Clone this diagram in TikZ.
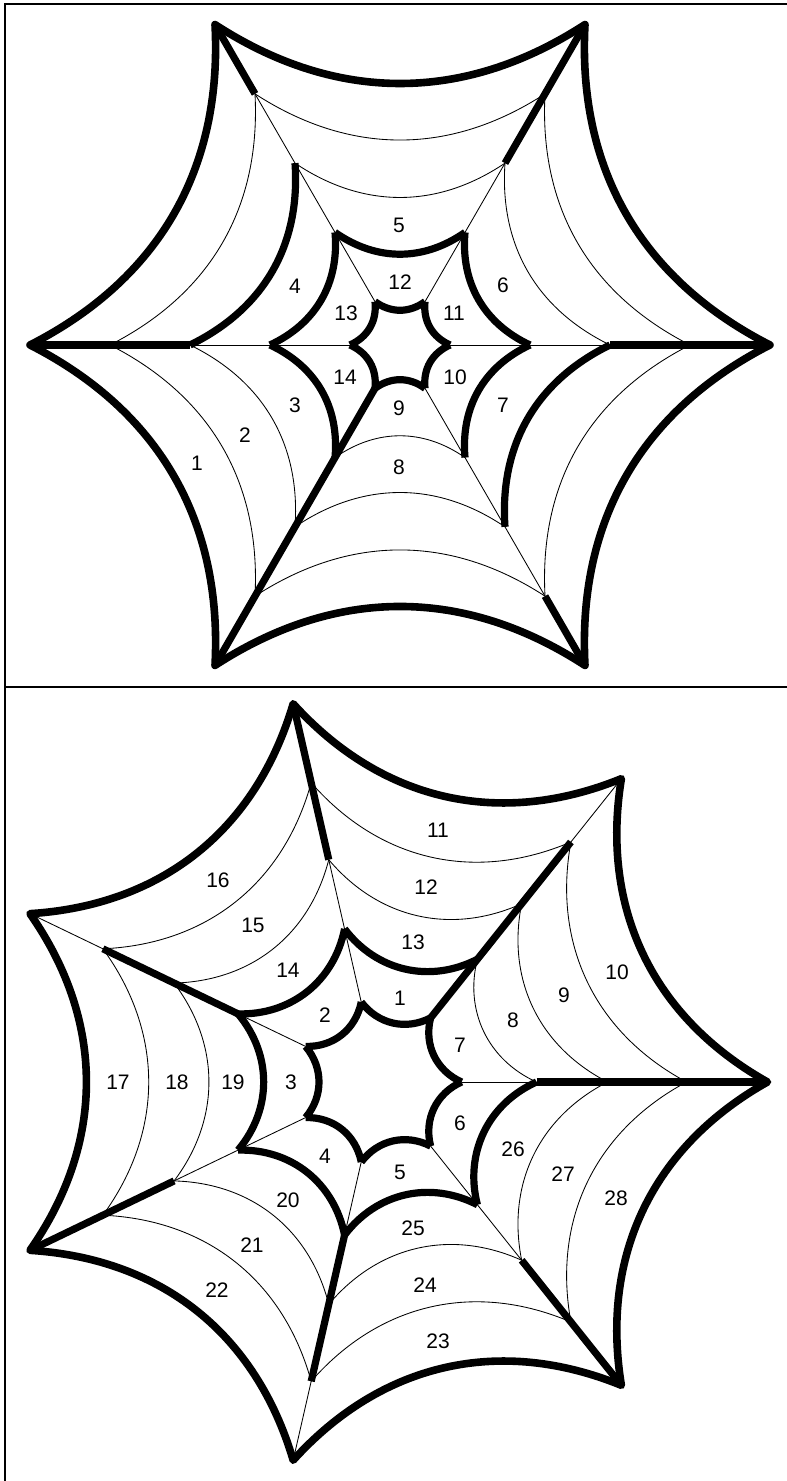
\documentclass[tikz,border=0pt]{standalone}
\usepackage{fontspec}
\setmainfont{Liberation Sans}
\begin{document}
\begin{tikzpicture}[x=1pt,y=1pt,
  thickline/.style={line width=7.2pt},
  thinline/.style={line width=0.85pt},
  outerline/.style={line width=7.6pt,line join=round},
  frameline/.style={line width=2pt},
  lbl/.style={font=\fontsize{21}{25}\selectfont, inner sep=0pt}]
\useasboundingbox (0,0) rectangle (787,1481);
% frame
\draw[frameline] (787,1477) -- (5,1477) -- (5,0);
\draw[frameline] (5,794) -- (787,794);

% ---------------- top web ----------------
\foreach \k in {0,...,5}{
  \foreach \i/\r in {1/50,2/130,3/210,4/290,5/370}{
    \coordinate (T\k-\i) at ([shift={(400,1136)}]\k*60:\r);
  }
}
% thin spokes
\foreach \k/\a/\b in {0/1/3,1/1/3,2/1/4,3/1/3,5/1/4}{
  \draw[thinline] (T\k-\a) -- (T\k-\b);
}
% thin arcs
\foreach \k/\i/\bb in {4/2/35,0/3/34,1/3/34,3/3/34,4/3/34,0/4/33,1/4/33,2/4/33,3/4/33,4/4/33,5/4/33}{
  \pgfmathtruncatemacro\kn{mod(\k+1,6)}
  \draw[thinline] (T\k-\i) to[bend left=\bb] (T\kn-\i);
}
% thick spokes
\foreach \k/\a/\b in {0/3/5,1/3/5,2/4/5,3/3/5,4/1/5,5/4/5}{
  \draw[thickline] (T\k-\a) -- (T\k-\b);
}
% thick arcs
\foreach \k/\i/\bb in {0/1/36,1/1/36,2/1/36,3/1/36,4/1/36,5/1/36,0/2/35,1/2/35,2/2/35,3/2/35,5/2/35,2/3/34,5/3/34}{
  \pgfmathtruncatemacro\kn{mod(\k+1,6)}
  \draw[thickline] (T\k-\i) to[bend left=\bb] (T\kn-\i);
}
\draw[outerline] (T0-5) to[bend left=33] (T1-5) to[bend left=33] (T2-5)
  to[bend left=33] (T3-5) to[bend left=33] (T4-5) to[bend left=33] (T5-5)
  to[bend left=33] cycle;

% ---------------- bottom web ----------------
\foreach \k in {0,...,6}{
  \foreach \i/\r in {1/82,2/157,3/228,4/307,5/388}{
    \coordinate (B\k-\i) at ([shift={(379.5,399)}]\k*51.428571:\r);
  }
}
% thin spokes
\foreach \k/\a/\b in {0/1/2,1/4/5,2/1/3,3/1/2,3/4/5,4/1/3,5/1/2,5/4/5,6/1/3}{
  \draw[thinline] (B\k-\a) -- (B\k-\b);
}
% thin arcs
\foreach \k/\i/\bb in {0/2/40,0/3/37,1/3/37,2/3/37,3/3/37,4/3/37,5/3/37,6/3/37,0/4/36,1/4/36,2/4/36,3/4/36,4/4/36,5/4/36,6/4/36}{
  \pgfmathtruncatemacro\kn{mod(\k+1,7)}
  \draw[thinline] (B\k-\i) to[bend left=\bb] (B\kn-\i);
}
% thick spokes
\foreach \k/\a/\b in {0/2/5,1/1/4,2/3/5,3/2/4,4/3/5,5/2/4,6/3/5}{
  \draw[thickline] (B\k-\a) -- (B\k-\b);
}
% thick arcs
\foreach \k/\i/\bb in {0/1/40,1/1/40,2/1/40,3/1/40,4/1/40,5/1/40,6/1/40,1/2/40,2/2/40,3/2/40,4/2/40,5/2/40,6/2/40}{
  \pgfmathtruncatemacro\kn{mod(\k+1,7)}
  \draw[thickline] (B\k-\i) to[bend left=\bb] (B\kn-\i);
}
\draw[outerline] (B0-5) to[bend left=35] (B1-5) to[bend left=35] (B2-5)
  to[bend left=35] (B3-5) to[bend left=35] (B4-5) to[bend left=35] (B5-5)
  to[bend left=35] (B6-5) to[bend left=35] cycle;

% ---------------- labels ----------------
\foreach \n/\x/\y in {1/197/1018,2/245/1046,3/295/1076,4/295/1195,5/399/1256,
  6/503/1196,7/503/1076,8/399/1014,9/399/1073,10/455/1104,11/454/1168,
  12/400/1199,13/346/1168,14/345/1104}{
  \node[lbl] (t\n) at (\x,\y) {\n};
}
\foreach \n/\x/\y in {1/400/483,2/325/466,3/291/399,4/325/325,5/400/309,
  6/460/358,7/460/436,8/513/461,9/564/486,10/617/509,11/438/651,12/426/594,
  13/413/539,14/288/511,15/253/556,16/218/601,17/118/399,18/177/399,
  19/233/399,20/288/281,21/252/236,22/217/191,23/438/140,24/425/196,
  25/413/253,26/513/332,27/563/307,28/616/283}{
  \node[lbl] (b\n) at (\x,\y) {\n};
}
\end{tikzpicture}
\end{document}
